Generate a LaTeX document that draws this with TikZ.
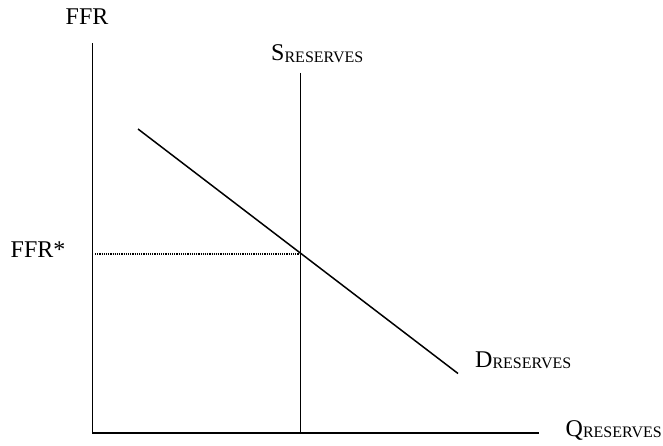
\documentclass[tikz,border=0pt]{standalone}
\usepackage{fontspec}
\setmainfont{Liberation Serif}
\newcommand\mysub[1]{\raisebox{-1.5pt}{\fontsize{16}{16}\selectfont #1}}
\tikzset{
  lab/.style={inner sep=0pt, anchor=base west, font=\fontsize{24}{24}\selectfont},
  axisline/.style={line width=1.7pt, line cap=rect},
  curve/.style={line width=1.5pt},
  guide/.style={line width=1.1pt, dash pattern=on 1.1pt off 1.1pt}
}
\begin{document}
\begin{tikzpicture}[x=1pt,y=-1pt]
\useasboundingbox (0,0) rectangle (663,446);
\coordinate (ytop) at (92.5,44);
\coordinate (origin) at (92.5,433);
\coordinate (xend) at (538,433);
\coordinate (stop) at (300.5,73);
\coordinate (sbot) at (300.5,433);
\coordinate (dstart) at (138,129);
\coordinate (dend) at (458,373.5);
\coordinate (eq) at (300.5,254);
\coordinate (gstart) at (95,254);
\draw[axisline] (ytop) -- (origin) -- (xend);
\draw[curve] (stop) -- (sbot);
\draw[curve] (dstart) -- (dend);
\draw[guide] (gstart) -- (eq);
\node[lab] (ffr) at (65.5,25) {FFR};
\node[lab] (ffrstar) at (10.5,257) {FFR*};
\node[lab] (slab) at (271,61) {S\mysub{RESERVES}};
\node[lab] (dlab) at (475,367) {D\mysub{RESERVES}};
\node[lab] (qlab) at (565.5,436) {Q\mysub{RESERVES}};
\end{tikzpicture}
\end{document}
